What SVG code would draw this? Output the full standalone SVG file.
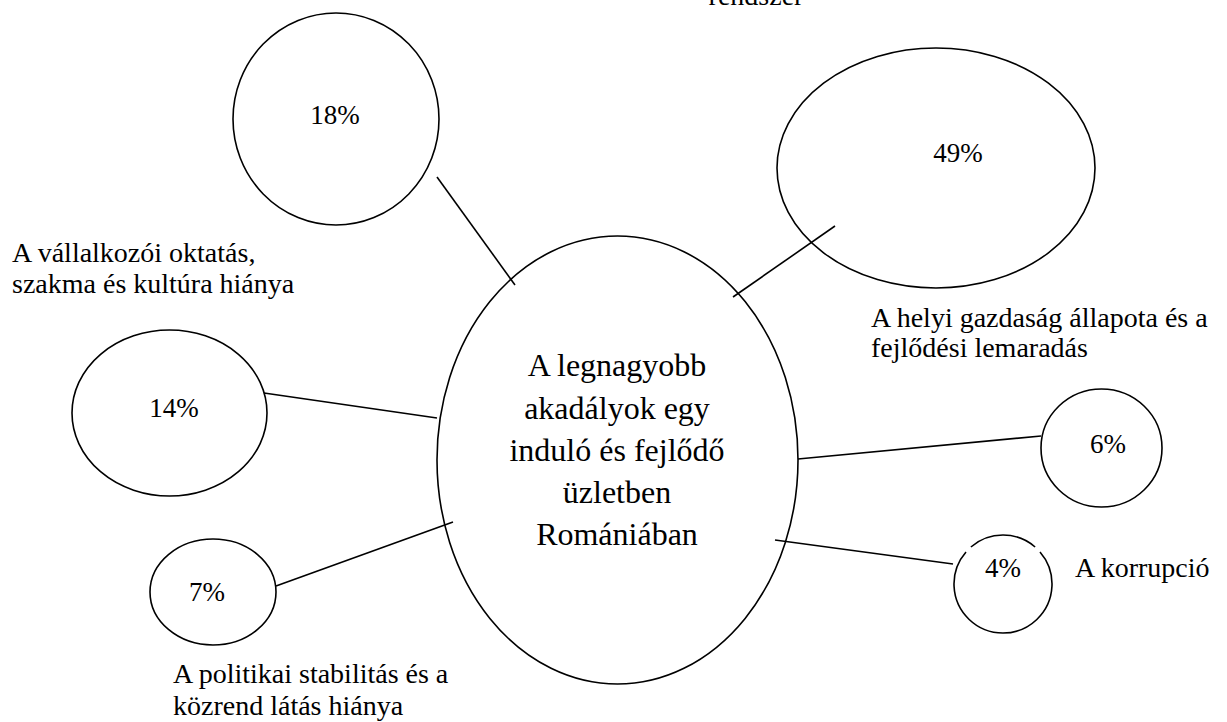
<svg xmlns="http://www.w3.org/2000/svg" width="1227" height="722" viewBox="0 0 1227 722">
<style>
.n{fill:none;stroke:#000;stroke-width:1.6}
.c line{stroke:#000;stroke-width:1.6}
text{font-family:"Liberation Serif","Times New Roman",serif;fill:#000}
.p{font-size:27px;text-anchor:middle}
.l{font-size:28px}
.m{font-size:32px;text-anchor:middle}
</style>
<rect width="1227" height="722" fill="#fff"/>
<g class="c" id="connectors">
<line x1="437" y1="177" x2="515" y2="285"/>
<line x1="733" y1="297" x2="835" y2="226"/>
<line x1="264" y1="393" x2="437" y2="418"/>
<line x1="276" y1="586" x2="453" y2="522"/>
<line x1="798" y1="459" x2="1041" y2="436"/>
<line x1="775" y1="540" x2="953" y2="564"/>
</g>
<g id="center">
<ellipse class="n" cx="617.5" cy="460" rx="180.5" ry="224"/>
<text class="m" x="617" y="376">A legnagyobb</text>
<text class="m" x="617" y="419">akadályok egy</text>
<text class="m" x="617" y="461">induló és fejlődő</text>
<text class="m" x="617" y="503">üzletben</text>
<text class="m" x="617" y="545">Romániában</text>
</g>
<g id="n18">
<ellipse class="n" cx="336" cy="119" rx="103" ry="106"/>
<text class="p" x="335" y="124">18%</text>
</g>
<g id="n49">
<ellipse class="n" cx="936" cy="168" rx="159" ry="120"/>
<text class="p" x="958" y="162">49%</text>
<text class="l" x="756" y="5" text-anchor="middle">rendszer</text>
</g>
<g id="n14">
<ellipse class="n" cx="169.5" cy="413" rx="97.5" ry="83"/>
<text class="p" x="174" y="417">14%</text>
<text class="l" x="12" y="262">A vállalkozói oktatás,</text>
<text class="l" x="12" y="293">szakma és kultúra hiánya</text>
</g>
<g id="n7">
<ellipse class="n" cx="213" cy="592" rx="63" ry="53"/>
<text class="p" x="207" y="601">7%</text>
<text class="l" x="173" y="683">A politikai stabilitás és a</text>
<text class="l" x="173" y="715">közrend látás hiánya</text>
</g>
<g id="n6">
<ellipse class="n" cx="1101.5" cy="448" rx="60.5" ry="59"/>
<text class="p" x="1108" y="453">6%</text>
<text class="l" x="871" y="327">A helyi gazdaság állapota és a</text>
<text class="l" x="871" y="357">fejlődési lemaradás</text>
</g>
<g id="n4">
<path class="n" d="M970.9 547 A49 49 0 0 1 1035.1 547 M1040 551.9 A49 49 0 1 1 966 551.9"/>
<text class="p" x="1003" y="577">4%</text>
<text class="l" x="1075" y="577">A korrupció</text>
</g>
</svg>
